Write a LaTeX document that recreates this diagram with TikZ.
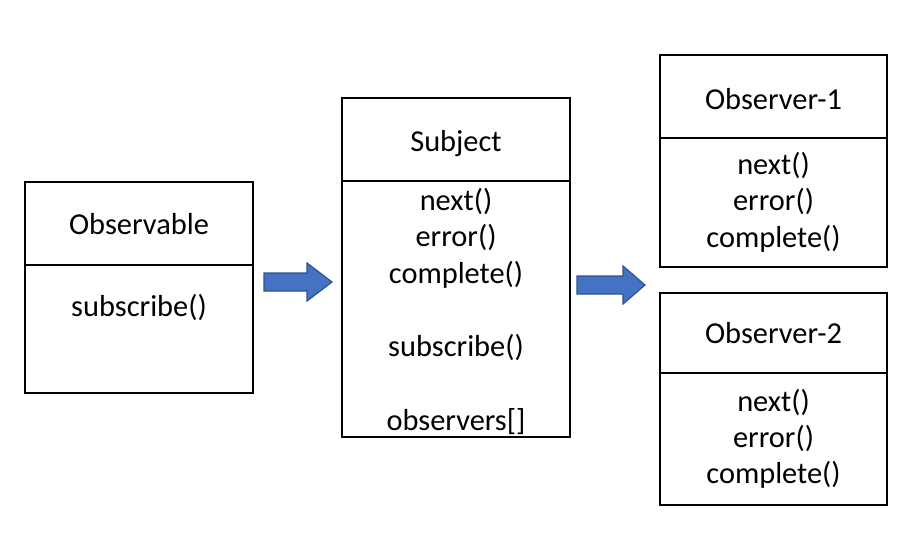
\documentclass[tikz,border=0pt]{standalone}
\usepackage{fontspec}
\setmainfont{Carlito}
\definecolor{arrowblue}{HTML}{4472C4}
\definecolor{arrowedge}{HTML}{2F528F}
\begin{document}
\begin{tikzpicture}[x=0.5pt,y=-0.5pt,
  box/.style={draw=black, line width=1pt, inner sep=0pt, minimum width=114pt},
  lbl/.style={anchor=base, inner sep=0pt, font=\fontsize{15.2}{18}\selectfont},
  blockarrow/.style={fill=arrowblue, draw=arrowedge, line width=0.6pt, line join=miter}]
\useasboundingbox (0,0) rectangle (908,547);
% Observable
\node[box, minimum height=41.5pt] (obsT) at (139,223.5) {};
\node[box, minimum height=64pt] (obsB) at (139,329) {};
\node[lbl] (obsName) at (139,234) {Observable};
\node[lbl] (obsSub) at (139,316) {subscribe()};
% Subject
\node[box, minimum height=41.5pt] (subT) at (456,139.5) {};
\node[box, minimum height=128pt] (subB) at (456,309) {};
\node[lbl] (subName) at (456,151) {Subject};
\node[lbl] (subNext) at (456,210) {next()};
\node[lbl] (subErr) at (456,246.5) {error()};
\node[lbl] (subComp) at (456,283) {complete()};
\node[lbl] (subSub) at (456,356.5) {subscribe()};
\node[lbl] (subObs) at (456,430.5) {observers[]};
% Observer-1
\node[box, minimum width=113.5pt, minimum height=41.5pt] (o1T) at (773.5,96.5) {};
\node[box, minimum width=113.5pt, minimum height=64.5pt] (o1B) at (773.5,202.5) {};
\node[lbl] (o1Name) at (773.5,109) {Observer-1};
\node[lbl] (o1Next) at (773.5,174) {next()};
\node[lbl] (o1Err) at (773.5,210.5) {error()};
\node[lbl] (o1Comp) at (773.5,247) {complete()};
% Observer-2
\node[box, minimum width=113.5pt, minimum height=40pt] (o2T) at (773.5,333) {};
\node[box, minimum width=113.5pt, minimum height=66pt] (o2B) at (773.5,439) {};
\node[lbl] (o2Name) at (773.5,343.5) {Observer-2};
\node[lbl] (o2Next) at (773.5,411) {next()};
\node[lbl] (o2Err) at (773.5,447) {error()};
\node[lbl] (o2Comp) at (773.5,483) {complete()};
% block arrows
\draw[blockarrow] (264,273) -- (307,273) -- (307,263) -- (332,282) -- (307,301) -- (307,291) -- (264,291) -- cycle;
\draw[blockarrow] (577,276) -- (623,276) -- (623,266) -- (645,285) -- (623,304) -- (623,294) -- (577,294) -- cycle;
\end{tikzpicture}
\end{document}
